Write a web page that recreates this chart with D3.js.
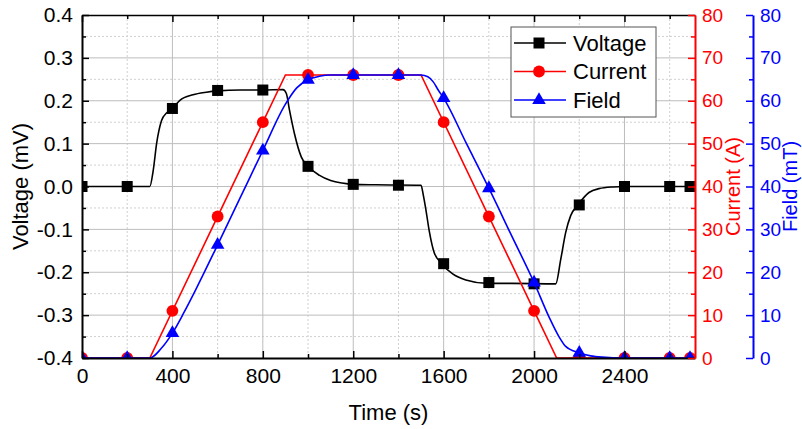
<!DOCTYPE html>
<html>
<head>
<meta charset="utf-8">
<script src="https://cdn.jsdelivr.net/npm/d3@7"></script>
<style>
  body { margin: 0; background: #fff; }
  text { font-family: Arial, "Liberation Sans", sans-serif; }
</style>
</head>
<body>
<svg id="chart" width="802" height="429"></svg>
<script>
// --- DATA ---
var markerTimes = [0, 200, 400, 600, 800, 1000, 1200, 1400, 1600, 1800, 2000, 2200, 2400, 2600, 2690];
var voltageMarks = [0, 0, 0.182, 0.224, 0.225, 0.047, 0.005, 0.003, -0.180, -0.224, -0.227, -0.043, 0, 0, 0];
var currentMarks = [0, 0, 11, 33, 55, 66, 66, 66, 55, 33, 11, 0, 0, 0, 0];
var fieldMarks   = [0, 0, 5.8, 26.4, 48.4, 64.9, 66, 66, 60.6, 39.6, 17.6, 1.2, 0, 0, 0];

// continuous traces (time s, value)
var voltageCurve = [
  [0, 0], [300, 0], [315, 0.037], [330, 0.1], [352, 0.154], [375, 0.172], [400, 0.182],
  [433, 0.201], [491, 0.214], [550, 0.220], [600, 0.223], [700, 0.225], [800, 0.225],
  [889, 0.226], [904, 0.217], [918, 0.178], [940, 0.123], [970, 0.069], [1000, 0.047],
  [1051, 0.026], [1100, 0.014], [1150, 0.008], [1200, 0.005], [1300, 0.004], [1500, 0.003],
  [1510, -0.02], [1522, -0.056], [1536, -0.103], [1558, -0.154], [1592, -0.18], [1640, -0.204],
  [1698, -0.218], [1794, -0.226], [1900, -0.226], [2096, -0.227], [2118, -0.17], [2140, -0.107],
  [2162, -0.068], [2194, -0.043], [2243, -0.014], [2287, -0.005], [2350, -0.001], [2400, 0], [2690, 0]
];
var currentCurve = [[0, 0], [300, 0], [900, 66], [1500, 66], [2100, 0], [2690, 0]];
var fieldCurve = [
  [0, 0], [300, 0], [350, 2.2], [400, 5.8], [450, 10.5], [500, 15.6], [600, 26.4], [700, 37.4],
  [800, 48.4], [900, 59.2], [950, 63], [1000, 64.9], [1050, 65.7], [1100, 66], [1500, 66],
  [1530, 65.6], [1554, 64.4], [1576, 62.5], [1600, 60.6], [1700, 50.1], [1800, 39.6], [1900, 28.6],
  [2000, 17.6], [2066, 9.6], [2110, 5.0], [2140, 2.7], [2200, 1.2], [2250, 0.5], [2300, 0.2],
  [2400, 0], [2690, 0]
];

var xTicks = [0, 400, 800, 1200, 1600, 2000, 2400];
var xMinor = [200, 600, 1000, 1400, 1800, 2200, 2600];
var vTicks = [-0.4, -0.3, -0.2, -0.1, 0, 0.1, 0.2, 0.3, 0.4];
var vMinor = [-0.35, -0.25, -0.15, -0.05, 0.05, 0.15, 0.25, 0.35];
var rTicks = [0, 10, 20, 30, 40, 50, 60, 70, 80];
var rMinor = [5, 15, 25, 35, 45, 55, 65, 75];

// --- LAYOUT ---
var plotL = 82, plotR = 695, plotT = 15, plotB = 358;
var blueX = 753;
var red = "#ff0000", blue = "#0000ff";

var svg = d3.select("#chart");

var x = d3.scaleLinear().domain([0, 2712]).range([plotL, plotR]);
var yV = d3.scaleLinear().domain([-0.4, 0.4]).range([plotB, plotT]);
var yA = d3.scaleLinear().domain([0, 80]).range([plotB, plotT]);

svg.append("defs").append("clipPath").attr("id", "plotclip")
  .append("rect").attr("x", plotL).attr("y", plotT)
  .attr("width", plotR - plotL).attr("height", plotB - plotT);

// --- GRID ---
var grid = svg.append("g");
grid.selectAll(null).data(xMinor).enter().append("line")
  .attr("x1", d => x(d)).attr("x2", d => x(d)).attr("y1", plotT).attr("y2", plotB)
  .attr("stroke", "#d0d0d0").attr("stroke-dasharray", "2,2");
grid.selectAll(null).data(vMinor).enter().append("line")
  .attr("x1", plotL).attr("x2", plotR).attr("y1", d => yV(d)).attr("y2", d => yV(d))
  .attr("stroke", "#d0d0d0").attr("stroke-dasharray", "2,2");
grid.selectAll(null).data(xTicks.slice(1)).enter().append("line")
  .attr("x1", d => x(d)).attr("x2", d => x(d)).attr("y1", plotT).attr("y2", plotB)
  .attr("stroke", "#bdbdbd");
grid.selectAll(null).data(vTicks.slice(1, -1)).enter().append("line")
  .attr("x1", plotL).attr("x2", plotR).attr("y1", d => yV(d)).attr("y2", d => yV(d))
  .attr("stroke", "#bdbdbd");

// --- SERIES ---
var plot = svg.append("g").attr("clip-path", "url(#plotclip)");

function drawSeries(curve, marks, yScale, color, symbolType, symbolSize, curveType) {
  var line = d3.line().x(d => x(d[0])).y(d => yScale(d[1])).curve(curveType);
  plot.append("path").datum(curve)
    .attr("d", line).attr("fill", "none")
    .attr("stroke", color).attr("stroke-width", 1.6);
  var sym = d3.symbol().type(symbolType).size(symbolSize);
  plot.selectAll(null).data(markerTimes).enter().append("path")
    .attr("d", sym)
    .attr("transform", (d, i) => "translate(" + x(d) + "," + yScale(marks[i]) + ")")
    .attr("fill", color);
}

drawSeries(voltageCurve, voltageMarks, yV, "#000", d3.symbolSquare, 121, d3.curveMonotoneX);
drawSeries(currentCurve, currentMarks, yA, red, d3.symbolCircle, 110, d3.curveLinear);
drawSeries(fieldCurve, fieldMarks, yA, blue, d3.symbolTriangle, 80, d3.curveMonotoneX);

// --- AXES ---
function styleAxis(g, color, size) {
  g.select(".domain").attr("stroke", color).attr("stroke-width", 2);
  g.selectAll(".tick line").attr("stroke", color).attr("stroke-width", 1.5);
  g.selectAll("text").attr("fill", color).style("font-size", (size || 21) + "px")
    .style("font-family", "Arial, 'Liberation Sans', sans-serif");
}
function minorAxis(axis, transform, color) {
  var g = svg.append("g").attr("transform", transform)
    .call(axis.tickFormat("").tickSize(-4).tickSizeOuter(0));
  styleAxis(g, color);
  g.select(".domain").remove();
}

// bottom
minorAxis(d3.axisBottom(x).tickValues(xMinor), "translate(0," + plotB + ")", "#000");
var gx = svg.append("g").attr("transform", "translate(0," + plotB + ")")
  .call(d3.axisBottom(x).tickValues(xTicks).tickFormat(d3.format("d"))
    .tickSize(-7).tickSizeOuter(0).tickPadding(10));
styleAxis(gx, "#000");

// top (mirror, no labels)
minorAxis(d3.axisTop(x).tickValues(xMinor), "translate(0," + plotT + ")", "#000");
var gt = svg.append("g").attr("transform", "translate(0," + plotT + ")")
  .call(d3.axisTop(x).tickValues(xTicks).tickFormat("").tickSize(-7).tickSizeOuter(0));
styleAxis(gt, "#000");
gt.select(".domain").attr("stroke-width", 1.5);

// left voltage
minorAxis(d3.axisLeft(yV).tickValues(vMinor), "translate(" + plotL + ",0)", "#000");
var gy = svg.append("g").attr("transform", "translate(" + plotL + ",0)")
  .call(d3.axisLeft(yV).tickValues(vTicks).tickFormat(d => d3.format(".1f")(d).replace("\u2212", "-"))
    .tickSize(-7).tickSizeOuter(0).tickPadding(9));
styleAxis(gy, "#000");

// right current (red) and field (blue)
function rightAxis(xPos, color) {
  minorAxis(d3.axisRight(yA).tickValues(rMinor), "translate(" + xPos + ",0)", color);
  var g = svg.append("g").attr("transform", "translate(" + xPos + ",0)")
    .call(d3.axisRight(yA).tickValues(rTicks).tickSize(-7).tickSizeOuter(0).tickPadding(7));
  styleAxis(g, color, 19);
}
rightAxis(plotR, red);
rightAxis(blueX, blue);

// --- TITLES ---
function vTitle(cx, cy, label, color, size) {
  svg.append("text")
    .attr("transform", "translate(" + cx + "," + cy + ") rotate(-90)")
    .attr("text-anchor", "middle").attr("dy", "0.35em")
    .attr("fill", color).style("font-size", size + "px").text(label);
}
vTitle(20, (plotT + plotB) / 2, "Voltage (mV)", "#000", 22);
vTitle(733, (plotT + plotB) / 2, "Current (A)", red, 20);
vTitle(790, (plotT + plotB) / 2, "Field (mT)", blue, 20);

svg.append("text").attr("x", (plotL + plotR) / 2).attr("y", 420)
  .attr("text-anchor", "middle").style("font-size", "22px").text("Time (s)");

// --- LEGEND ---
var legendItems = [
  { label: "Voltage", color: "#000", type: d3.symbolSquare, size: 121 },
  { label: "Current", color: red, type: d3.symbolCircle, size: 110 },
  { label: "Field", color: blue, type: d3.symbolTriangle, size: 80 }
];
var lg = svg.append("g");
lg.append("rect").attr("x", 511).attr("y", 27).attr("width", 145).attr("height", 90)
  .attr("fill", "#fff").attr("stroke", "#555").attr("stroke-width", 1);
legendItems.forEach(function(d, i) {
  var cy = 43 + i * 28.5;
  lg.append("line").attr("x1", 514).attr("x2", 566).attr("y1", cy).attr("y2", cy)
    .attr("stroke", d.color).attr("stroke-width", 1.6);
  lg.append("path").attr("d", d3.symbol().type(d.type).size(d.size))
    .attr("transform", "translate(539," + cy + ")").attr("fill", d.color);
  lg.append("text").attr("x", 573).attr("y", cy).attr("dy", "0.35em")
    .style("font-size", "22px").attr("fill", "#000").text(d.label);
});
</script>
</body>
</html>
